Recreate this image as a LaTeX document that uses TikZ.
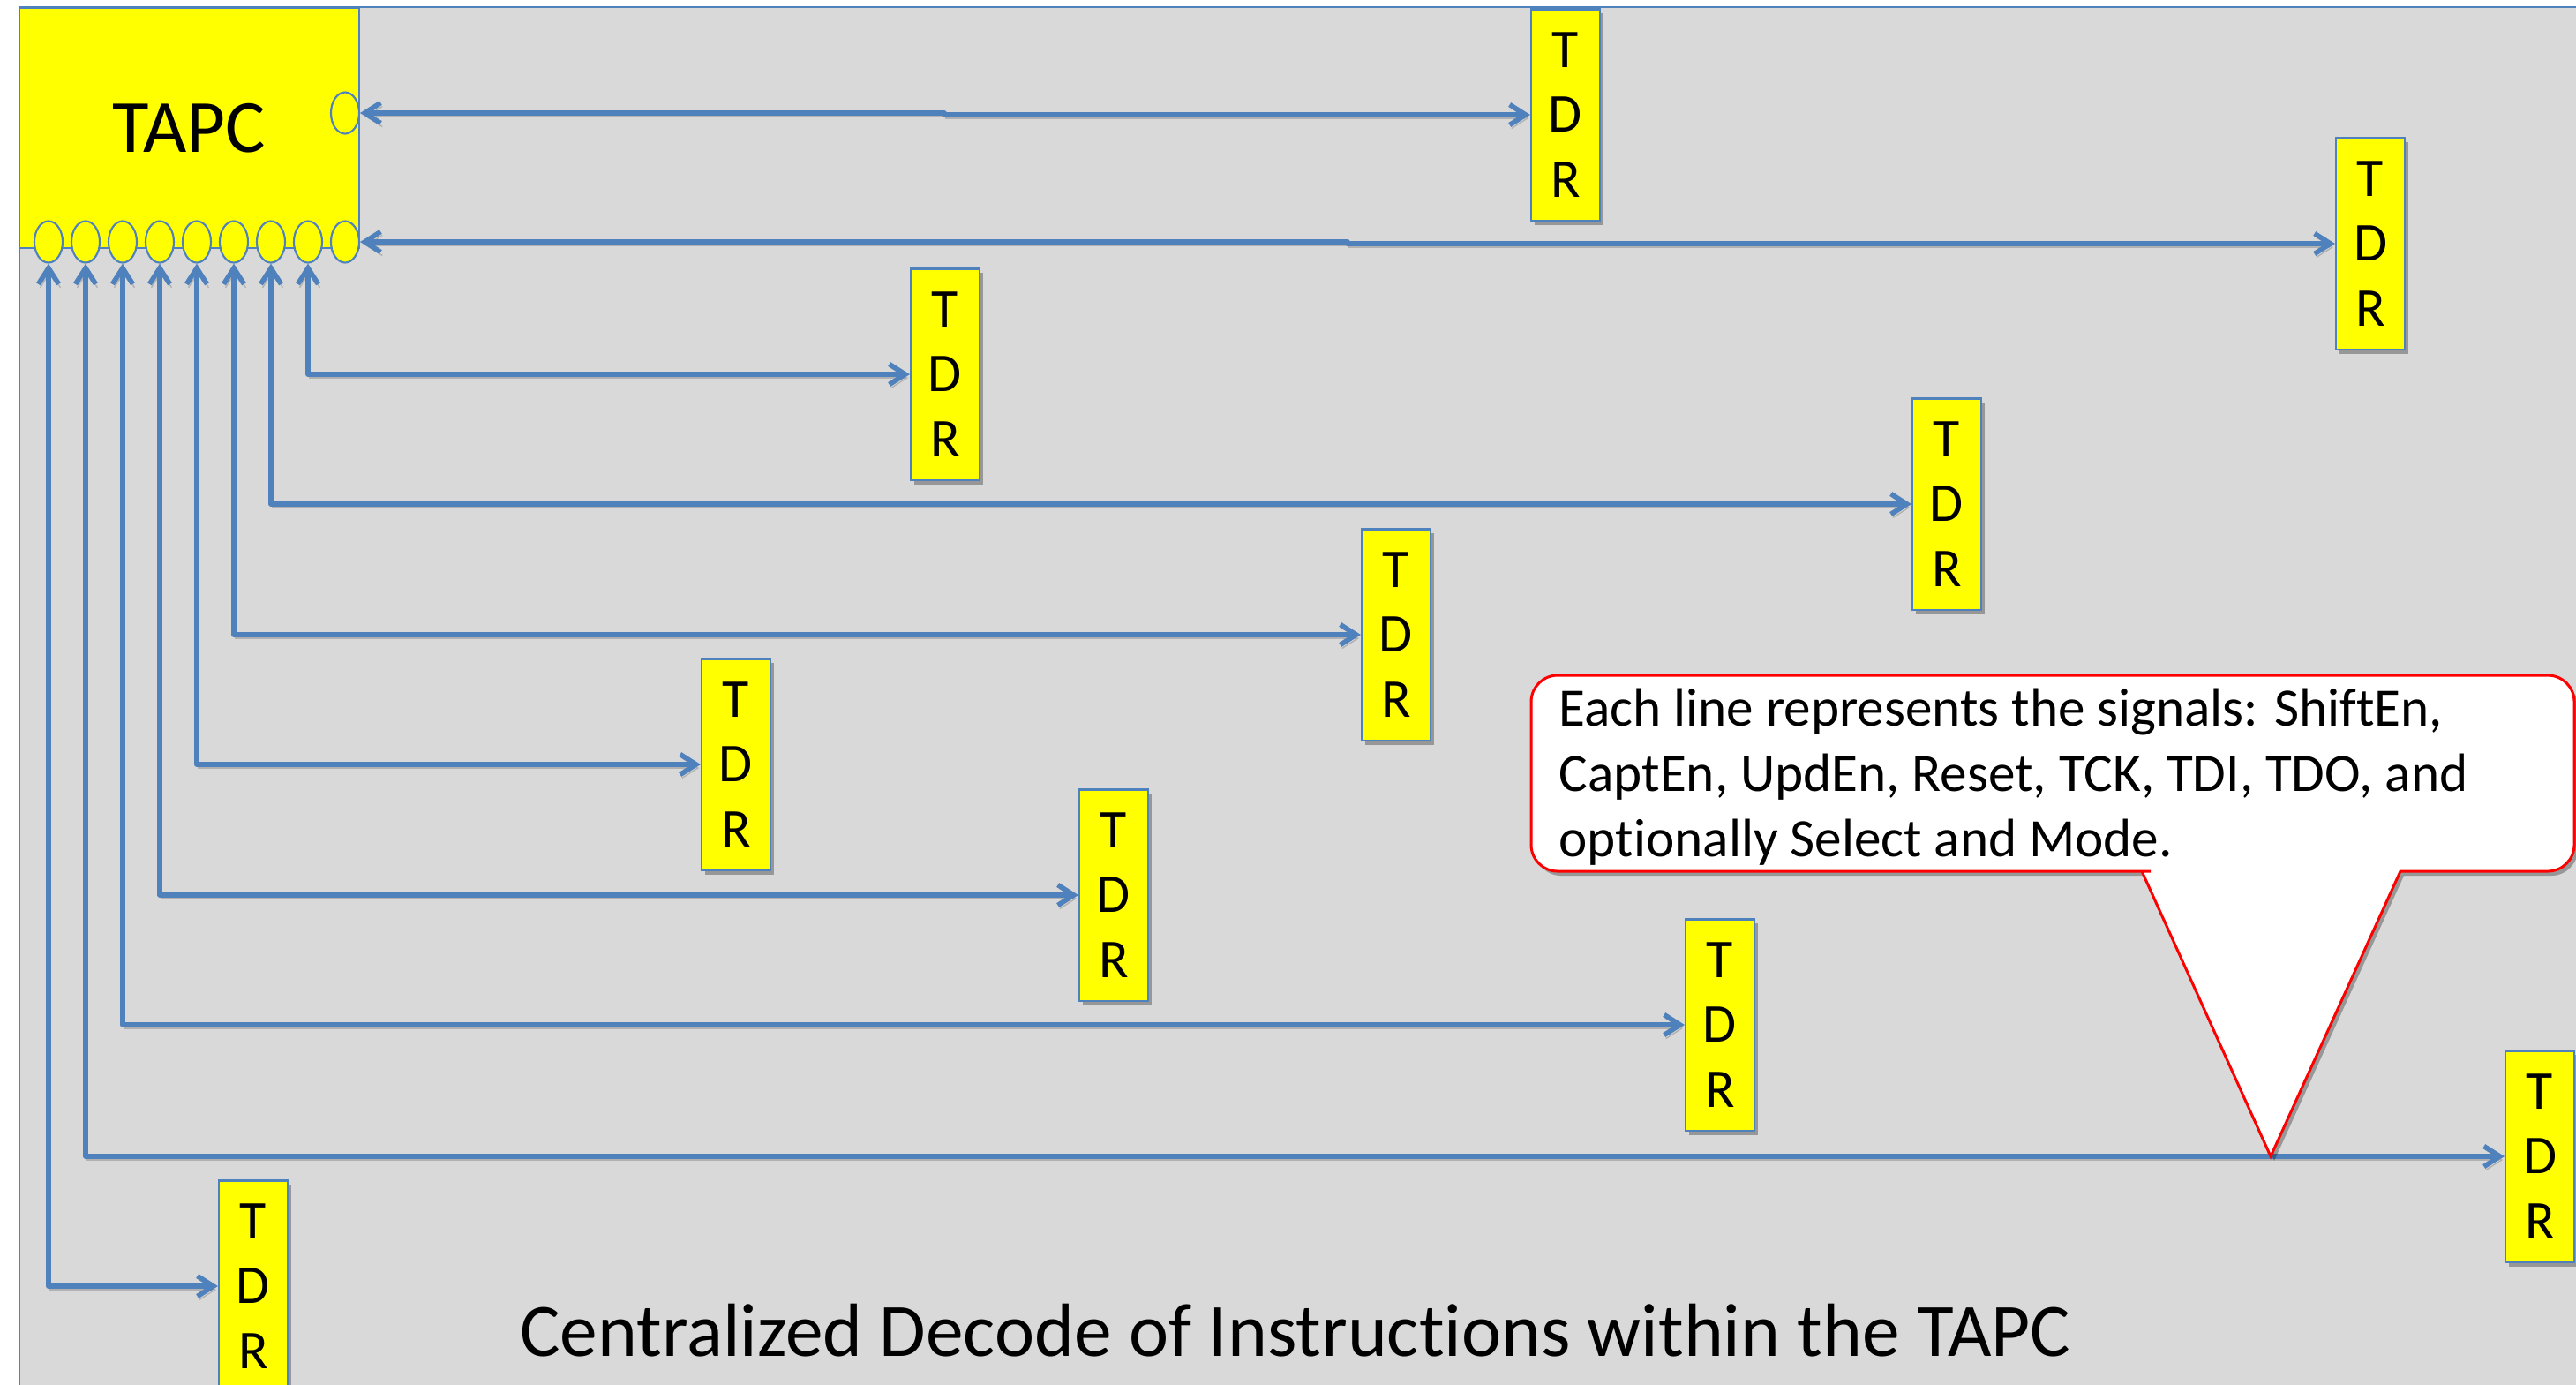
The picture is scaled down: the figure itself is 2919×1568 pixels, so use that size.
\documentclass[tikz,border=0pt]{standalone}
\usepackage{fontspec}
\setmainfont{Carlito}[Ligatures=NoCommon]
\usetikzlibrary{arrows.meta,shadows,shapes.geometric,calc}
\definecolor{lineblue}{HTML}{4F81BD}
\definecolor{panelgray}{HTML}{D9D9D9}
\definecolor{boxyellow}{HTML}{FFFF00}
\definecolor{calloutred}{HTML}{FF0000}

\begin{document}
\begin{tikzpicture}[x=0.01cm,y=-0.01cm,
  softshadow/.style={drop shadow={shadow xshift=0.04cm, shadow yshift=-0.05cm, opacity=0.3, fill=black}},
  tapcbox/.style={draw=lineblue, line width=0.6pt, fill=boxyellow, minimum width=3.85cm, minimum height=2.72cm,
    inner sep=0pt, font=\fontsize{24.2}{29}\selectfont},
  tdrbox/.style={draw=lineblue, line width=0.6pt, fill=boxyellow, minimum width=0.78cm, minimum height=2.39cm,
    inner sep=0pt, align=center, font=\fontsize{17.6}{21}\selectfont, softshadow},
  port/.style={ellipse, draw=lineblue, line width=0.6pt, fill=boxyellow, minimum width=0.32cm,
    minimum height=0.47cm, inner sep=0pt},
  conn/.style={draw=lineblue, line width=1.6pt, line join=round,
    {Straight Barb[length=0.18cm,width=0.23cm]}-{Straight Barb[length=0.18cm,width=0.23cm]},
    preaction={draw=black, opacity=0.18, transform canvas={xshift=0.02cm, yshift=-0.04cm}}},
]
\useasboundingbox (0,0) rectangle (2919,1568);
% page and panel
\fill[white] (0,0) rectangle (2919,1568);
\draw[draw=lineblue, line width=0.6pt, fill=panelgray] (22,8) rectangle (2960,1600);

% controller with its ports
\node[tapcbox] (tapc) at (214.5,145) {TAPC};
\foreach \i in {1,...,9} {
  \node[port] (e\i) at ({13+42*\i},274) {};
}
\node[port] (er) at (391,128) {};

% test data registers
\foreach \n/\x/\y in {1/1774/130, 2/2686/276, 3/1071/424, 4/2206/571, 5/1582/719,
                      6/834/866, 7/1262/1014, 8/1949/1161, 9/2878/1310, 10/287/1457} {
  \node[tdrbox] (tdr\n) at (\x,\y) {T\\D\\R};
}

% connectors
\coordinate (j1) at (1070,130);
\coordinate (j2) at (1527,276);
\draw[conn] (er.east) -| (j1) |- (tdr1.west);
\draw[conn] (e9.east) -| (j2) |- (tdr2.west);
\foreach \p/\t in {8/3, 7/4, 6/5, 5/6, 4/7, 3/8, 2/9, 1/10} {
  \draw[conn] (e\p.south) |- (tdr\t.west);
}

% callout
\path[draw=calloutred, line width=0.85pt, fill=white, softshadow]
  (2573,1310) -- (2720,987) -- (2740,987) [rounded corners=0.3cm] -- (2917,987) -- (2917,765)
  -- (1735,765) -- (1735,987) -- (2407,987) [sharp corners] -- (2427,987) -- cycle;
\node[anchor=base west, align=left, inner sep=0pt, font=\fontsize{17.4}{21}\selectfont] (note) at (1766,970)
  {Each line represents the signals: ShiftEn,\\CaptEn, UpdEn, Reset, TCK, TDI, TDO, and\\optionally Select and Mode.};

% caption
\node[anchor=base, inner sep=0pt, font=\fontsize{24.3}{29}\selectfont] (title) at (1468,1536)
  {Centralized Decode of Instructions within the TAPC};
\end{tikzpicture}
\end{document}
